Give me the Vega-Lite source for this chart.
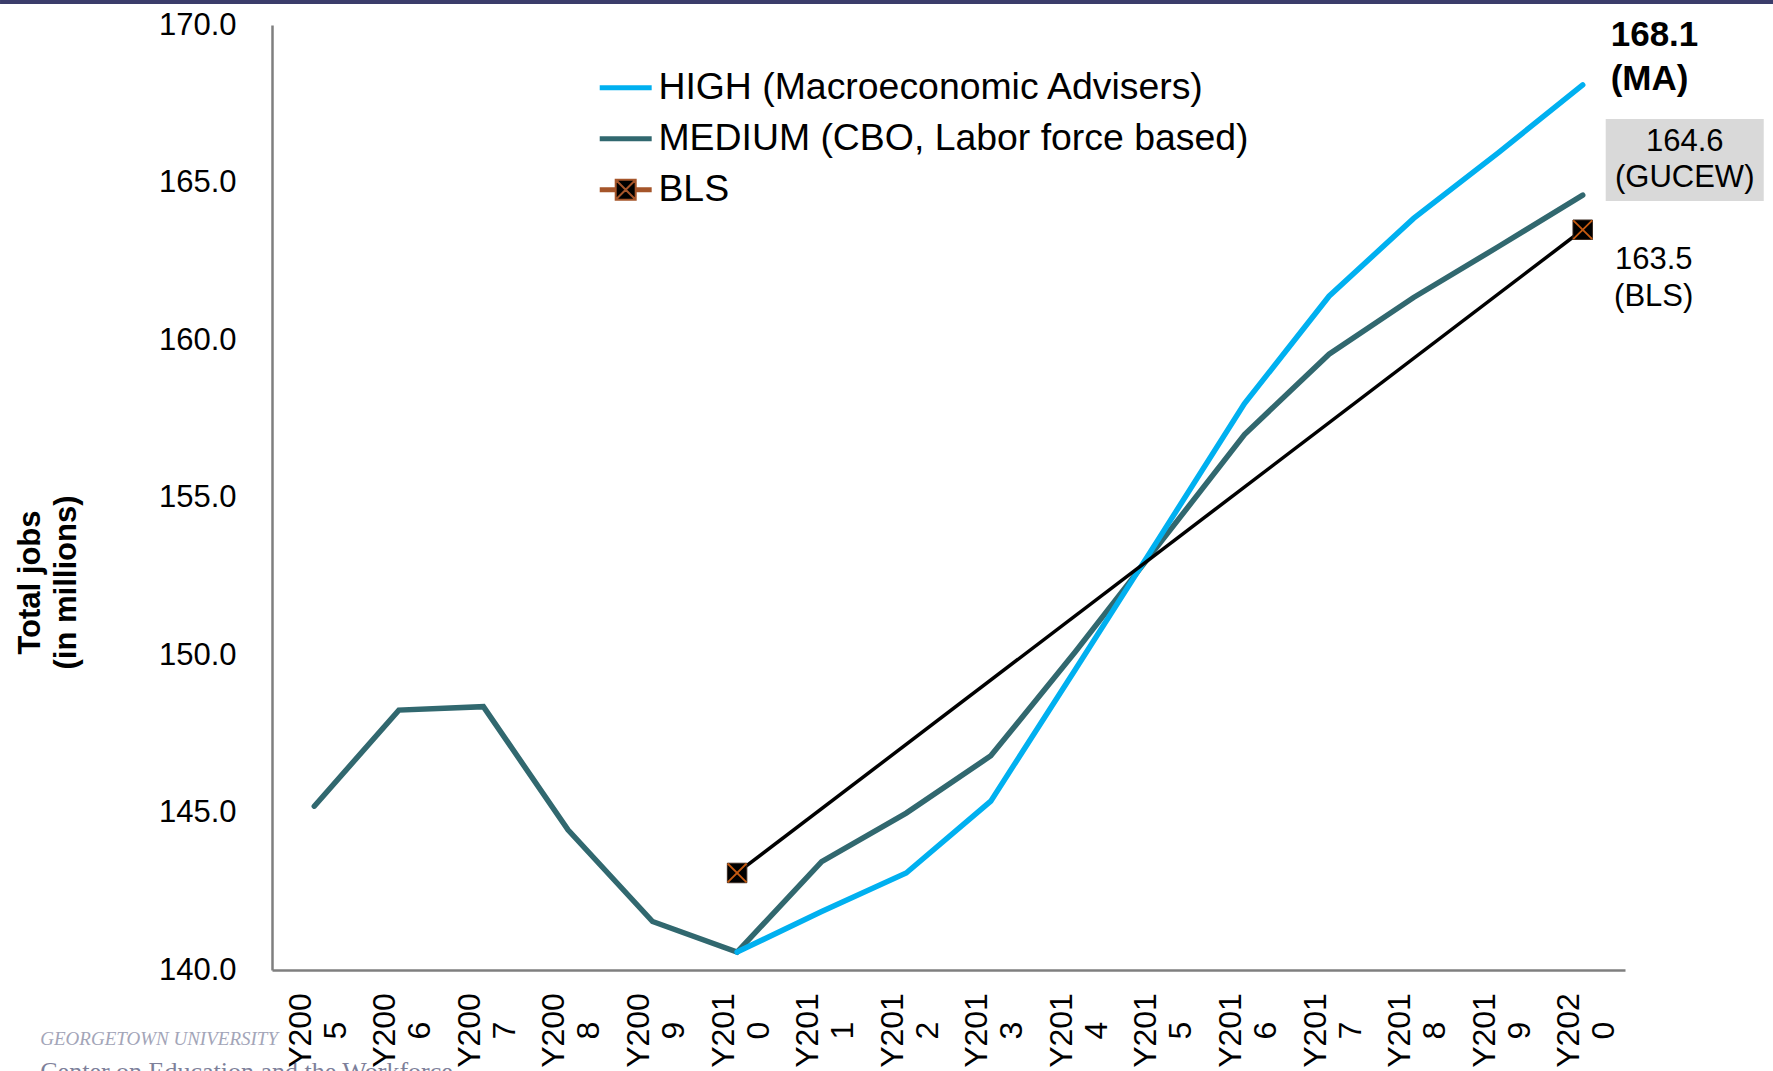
{
  "$schema": "https://vega.github.io/schema/vega-lite/v6.json",
  "autosize": {"type": "none"},
  "width": 1353,
  "height": 945,
  "padding": {"left": 272, "top": 25, "right": 148, "bottom": 101},
  "background": "white",
  "config": {
    "font": "Liberation Sans",
    "view": {"stroke": null}
  },
  "data": {
    "values": [
      {"year": "Y2005", "series": "MEDIUM (CBO, Labor force based)", "jobs": 145.2},
      {"year": "Y2006", "series": "MEDIUM (CBO, Labor force based)", "jobs": 148.25},
      {"year": "Y2007", "series": "MEDIUM (CBO, Labor force based)", "jobs": 148.36},
      {"year": "Y2008", "series": "MEDIUM (CBO, Labor force based)", "jobs": 144.45},
      {"year": "Y2009", "series": "MEDIUM (CBO, Labor force based)", "jobs": 141.54},
      {"year": "Y2010", "series": "MEDIUM (CBO, Labor force based)", "jobs": 140.57},
      {"year": "Y2011", "series": "MEDIUM (CBO, Labor force based)", "jobs": 143.44},
      {"year": "Y2012", "series": "MEDIUM (CBO, Labor force based)", "jobs": 144.98},
      {"year": "Y2013", "series": "MEDIUM (CBO, Labor force based)", "jobs": 146.8},
      {"year": "Y2014", "series": "MEDIUM (CBO, Labor force based)", "jobs": 150.1},
      {"year": "Y2015", "series": "MEDIUM (CBO, Labor force based)", "jobs": 153.55},
      {"year": "Y2016", "series": "MEDIUM (CBO, Labor force based)", "jobs": 157.0},
      {"year": "Y2017", "series": "MEDIUM (CBO, Labor force based)", "jobs": 159.55},
      {"year": "Y2018", "series": "MEDIUM (CBO, Labor force based)", "jobs": 161.35},
      {"year": "Y2019", "series": "MEDIUM (CBO, Labor force based)", "jobs": 162.96},
      {"year": "Y2020", "series": "MEDIUM (CBO, Labor force based)", "jobs": 164.6},
      {"year": "Y2010", "series": "HIGH (Macroeconomic Advisers)", "jobs": 140.57},
      {"year": "Y2011", "series": "HIGH (Macroeconomic Advisers)", "jobs": 141.86},
      {"year": "Y2012", "series": "HIGH (Macroeconomic Advisers)", "jobs": 143.08},
      {"year": "Y2013", "series": "HIGH (Macroeconomic Advisers)", "jobs": 145.36},
      {"year": "Y2014", "series": "HIGH (Macroeconomic Advisers)", "jobs": 149.54},
      {"year": "Y2015", "series": "HIGH (Macroeconomic Advisers)", "jobs": 153.75},
      {"year": "Y2016", "series": "HIGH (Macroeconomic Advisers)", "jobs": 157.98},
      {"year": "Y2017", "series": "HIGH (Macroeconomic Advisers)", "jobs": 161.39},
      {"year": "Y2018", "series": "HIGH (Macroeconomic Advisers)", "jobs": 163.86},
      {"year": "Y2019", "series": "HIGH (Macroeconomic Advisers)", "jobs": 165.94},
      {"year": "Y2020", "series": "HIGH (Macroeconomic Advisers)", "jobs": 168.1},
      {"year": "Y2010", "series": "BLS", "jobs": 143.08},
      {"year": "Y2020", "series": "BLS", "jobs": 163.5}
    ]
  },
  "encoding": {
    "x": {
      "field": "year",
      "type": "ordinal",
      "scale": {
        "type": "point",
        "padding": 0.5,
        "domain": ["Y2005","Y2006","Y2007","Y2008","Y2009","Y2010","Y2011","Y2012","Y2013","Y2014","Y2015","Y2016","Y2017","Y2018","Y2019","Y2020"]
      },
      "axis": {
        "title": null,
        "zindex": 1,
        "domainColor": "#7f7f7f",
        "domainWidth": 2.5,
        "ticks": false,
        "grid": false,
        "labelAngle": -90,
        "labelAlign": "center",
        "labelBaseline": "middle",
        "labelPadding": 60,
        "labelOffset": -14,
        "labelFontSize": 32,
        "labelLineHeight": 35,
        "labelColor": "#000000",
        "labelExpr": "[substring(datum.label, 0, 4), substring(datum.label, 4)]"
      }
    },
    "y": {
      "field": "jobs",
      "type": "quantitative",
      "scale": {"domain": [140, 170], "nice": false, "zero": false},
      "axis": {
        "values": [140, 145, 150, 155, 160, 165, 170],
        "format": ".1f",
        "domainColor": "#7f7f7f",
        "domainWidth": 2.5,
        "ticks": false,
        "grid": false,
        "labelFontSize": 31,
        "labelColor": "#000000",
        "labelPadding": 36,
        "title": ["Total jobs", "(in millions)"],
        "titleFontSize": 31,
        "titleFontWeight": "bold",
        "titleColor": "#000000",
        "titleAngle": -90,
        "titleAlign": "center",
        "titleBaseline": "middle",
        "titleLineHeight": 36,
        "titleX": -242,
        "titleY": 557
      }
    }
  },
  "layer": [
    {
      "transform": [{"filter": "datum.year == 'Y2012' && datum.series == 'MEDIUM (CBO, Labor force based)'"}],
      "mark": {"type": "rect", "color": "#3B3D6B", "width": 1773, "height": 4, "xOffset": -19.7},
      "encoding": {"y": {"datum": 170.73}}
    },
    {
      "transform": [{"filter": "datum.series == 'MEDIUM (CBO, Labor force based)' && datum.year == 'Y2005'"}],
      "mark": {"type": "text", "align": "left", "baseline": "middle", "fontSize": 19, "font": "Liberation Serif", "fontStyle": "italic", "dx": -274, "color": "#A3A5B8"},
      "encoding": {
        "y": {"datum": 137.8},
        "text": {"value": "GEORGETOWN UNIVERSITY"}
      }
    },
    {
      "transform": [{"filter": "datum.series == 'MEDIUM (CBO, Labor force based)' && datum.year == 'Y2005'"}],
      "mark": {"type": "text", "align": "left", "baseline": "middle", "fontSize": 26, "font": "Liberation Serif", "dx": -274, "color": "#7D809A"},
      "encoding": {
        "y": {"datum": 136.75},
        "text": {"value": "Center on Education and the Workforce"}
      }
    },
    {
      "transform": [{"filter": "datum.series != 'BLS'"}],
      "mark": {"type": "line", "strokeWidth": 5.5, "strokeCap": "round", "strokeJoin": "miter"},
      "encoding": {
        "color": {
          "field": "series",
          "type": "nominal",
          "scale": {
            "domain": ["HIGH (Macroeconomic Advisers)", "MEDIUM (CBO, Labor force based)", "BLS"],
            "range": ["#00B0F0", "#31686F", "#A5552A"]
          },
          "legend": {
            "title": null,
            "orient": "none",
            "legendX": 335,
            "legendY": 44,
            "symbolType": "stroke",
            "symbolSize": 2700,
            "symbolStrokeWidth": 5,
            "symbolFillColor": "#000000",
            "labelFontSize": 37.4,
            "labelColor": "#000000",
            "labelLimit": 1000,
            "labelOffset": 14,
            "rowPadding": 12,
            "encode": {
              "symbols": {
                "update": {
                  "shape": {"signal": "datum.value == 'BLS' ? 'M-1,-0.06H-0.385M-1,0H-0.385M-1,0.06H-0.385M0.385,-0.06H1M0.385,0H1M0.385,0.06H1M-0.385,-0.385H0.385V0.385H-0.385ZM-0.385,-0.385L0.385,0.385M0.385,-0.385L-0.385,0.385' : 'stroke'"},
                  "strokeWidth": {"signal": "datum.value == 'BLS' ? 2 : 5"}
                }
              }
            }
          }
        }
      }
    },
    {
      "transform": [{"filter": "datum.series == 'BLS'"}],
      "mark": {"type": "line", "stroke": "#000000", "strokeWidth": 3.5},
      "encoding": {}
    },
    {
      "transform": [{"filter": "datum.series == 'BLS'"}],
      "mark": {"type": "point", "shape": "square", "filled": true, "fill": "#000000", "stroke": "#3a2a20", "strokeWidth": 1, "size": 380, "opacity": 1},
      "encoding": {}
    },
    {
      "transform": [{"filter": "datum.series == 'BLS'"}],
      "mark": {"type": "point", "shape": "M-1,-1L1,1M1,-1L-1,1", "filled": false, "stroke": "#C55A11", "strokeWidth": 1.8, "size": 360, "opacity": 1},
      "encoding": {}
    },
    {
      "transform": [{"filter": "datum.year == 'Y2020' && datum.series == 'MEDIUM (CBO, Labor force based)'"}],
      "mark": {"type": "rect", "color": "#D9D9D9", "width": 158, "height": 82, "xOffset": 102, "yOffset": -35},
      "encoding": {}
    },
    {
      "transform": [{"filter": "datum.year == 'Y2020' && datum.series == 'HIGH (Macroeconomic Advisers)'"}],
      "mark": {"type": "text", "align": "left", "baseline": "middle", "fontSize": 35, "fontWeight": "bold", "lineHeight": 44, "lineBreak": "\n", "dx": 28, "dy": -50, "color": "#000000"},
      "encoding": {
        "text": {"value": "168.1\n(MA)"}
      }
    },
    {
      "transform": [{"filter": "datum.year == 'Y2020' && datum.series == 'MEDIUM (CBO, Labor force based)'"}],
      "mark": {"type": "text", "align": "center", "baseline": "middle", "fontSize": 31, "lineHeight": 36, "lineBreak": "\n", "dx": 102, "dy": -53, "color": "#000000"},
      "encoding": {
        "text": {"value": "164.6\n(GUCEW)"}
      }
    },
    {
      "transform": [{"filter": "datum.year == 'Y2020' && datum.series == 'BLS'"}],
      "mark": {"type": "text", "align": "center", "baseline": "middle", "fontSize": 31, "lineHeight": 37, "lineBreak": "\n", "dx": 71, "dy": 30, "color": "#000000"},
      "encoding": {
        "text": {"value": "163.5\n(BLS)"}
      }
    }
  ]
}
